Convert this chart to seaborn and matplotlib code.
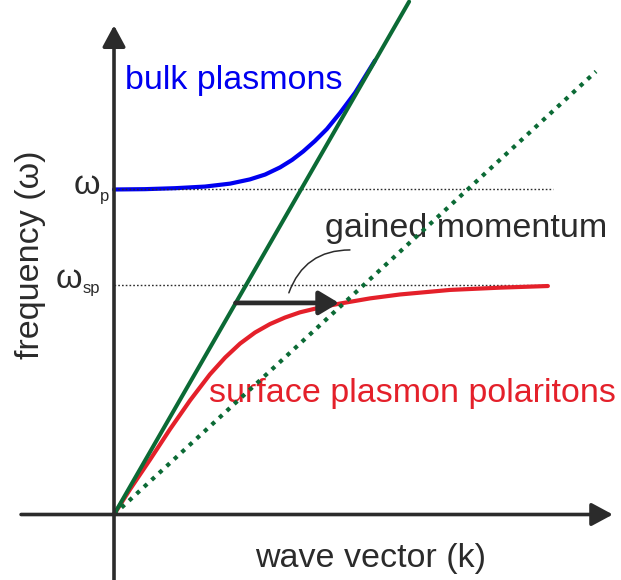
import matplotlib
matplotlib.use("Agg")
import matplotlib.pyplot as plt
from matplotlib.patches import FancyArrowPatch
import seaborn as sns

# Dispersion relations (normalised units: frequency in units of omega_p)
bulk_k = [0.000, 0.095, 0.188, 0.280, 0.357, 0.418, 0.465, 0.511, 0.548, 0.582,
          0.618, 0.655, 0.695, 0.742, 0.803]
bulk_w = [1.000, 1.001, 1.004, 1.009, 1.018, 1.031, 1.046, 1.068, 1.091, 1.117,
          1.149, 1.186, 1.235, 1.298, 1.397]

spp_k = [0.000, 0.049, 0.111, 0.172, 0.234, 0.295, 0.342, 0.388, 0.434, 0.480,
         0.526, 0.572, 0.634, 0.695, 0.788, 0.880, 1.034, 1.188, 1.335]
spp_w = [0.000, 0.077, 0.169, 0.262, 0.351, 0.431, 0.483, 0.526, 0.560, 0.586,
         0.606, 0.622, 0.637, 0.649, 0.665, 0.677, 0.691, 0.698, 0.703]

# Light lines: in vacuum and in a denser medium
light_k = [0.0, 0.908]
light_w = [0.0, 1.578]
prism_k = [0.0, 1.483]
prism_w = [0.0, 1.363]

# Characteristic frequencies
omega_p = 1.000
omega_sp = 0.705
omega_p_kmax = 1.351
omega_sp_kmax = 1.336

# Momentum gained at omega = const
gain_w = 0.651
gain_k = [0.374, 0.692]

sns.set_theme(style="white")
plt.rcParams["font.family"] = ["Liberation Sans", "DejaVu Sans"]

DARK = "#2b2b2b"
GREEN = "#0b6a35"
BLUE = "#0000f0"
RED = "#e4202a"
FS = 24.5

fig = plt.figure(figsize=(6.21, 5.80), dpi=100)
ax = fig.add_axes([0, 0, 1, 1])
ax.set_xlim(-0.3508, 1.56)
ax.set_ylim(-0.2015, 1.583)
ax.axis("off")

# Axes with arrow heads
axis_style = "-|>,head_length=13,head_width=7"
ax.add_patch(FancyArrowPatch((-0.286, 0.0), (1.535, 0.0), arrowstyle=axis_style,
                             mutation_scale=1, lw=2.6, color=DARK, shrinkA=0, shrinkB=0, zorder=6))
ax.add_patch(FancyArrowPatch((0.0, -0.25), (0.0, 1.505), arrowstyle=axis_style,
                             mutation_scale=1, lw=2.6, color=DARK, shrinkA=0, shrinkB=0, zorder=6))

curve_kw = dict(sort=False, estimator=None, ax=ax, solid_joinstyle="round",
                solid_capstyle="round")

# Bulk plasmons
sns.lineplot(x=bulk_k, y=bulk_w, color=BLUE, lw=3.0, zorder=2, **curve_kw)

# Reference frequencies
ax.plot([0, omega_p_kmax], [omega_p, omega_p], color=DARK, lw=1.0,
        linestyle=(0, (1.2, 1.5)), zorder=3)
ax.plot([0, omega_sp_kmax], [omega_sp, omega_sp], color=DARK, lw=1.0,
        linestyle=(0, (1.2, 1.5)), zorder=3)

# Surface plasmon polaritons
sns.lineplot(x=spp_k, y=spp_w, color=RED, lw=3.0, zorder=4, **curve_kw)

# Light lines
sns.lineplot(x=light_k, y=light_w, sort=False, estimator=None, color=GREEN, lw=2.9,
             ax=ax, zorder=5)
line, = ax.plot(prism_k, prism_w, color=GREEN, lw=3.0, zorder=5)
line.set_linestyle((0, (1.0, 1.45)))
line.set_dash_capstyle("butt")

# Gained momentum arrow
ax.add_patch(FancyArrowPatch((gain_k[0], gain_w), (gain_k[1], gain_w),
                             arrowstyle="-|>,head_length=12,head_width=7.2",
                             mutation_scale=1, lw=3.4, color=DARK,
                             shrinkA=0, shrinkB=0, zorder=5))
ax.add_patch(FancyArrowPatch((0.538, 0.682), (0.726, 0.814), arrowstyle="-",
                             connectionstyle="arc3,rad=-0.35", lw=1.1, color=DARK,
                             shrinkA=0, shrinkB=0, zorder=5))

# Labels
ax.text(0.034, 1.308, "bulk plasmons", color=BLUE, fontsize=FS, ha="left", va="baseline")
ax.text(0.648, 0.855, "gained momentum", color=DARK, fontsize=FS, ha="left", va="baseline")
ax.text(0.292, 0.345, "surface plasmon polaritons", color=RED, fontsize=FS,
        ha="left", va="baseline")
ax.text(0.435, -0.160, "wave vector (k)", color=DARK, fontsize=FS, ha="left", va="baseline")
ax.text(-0.258, 0.800, "frequency (ω)", color=DARK, fontsize=FS, ha="center", va="center",
        rotation=90)

ax.text(-0.044, 0.985, "ω", color=DARK, fontsize=FS, ha="right", va="baseline")
ax.text(-0.042, 0.964, "p", color=DARK, fontsize=12, ha="left", va="baseline")
ax.text(-0.099, 0.697, "ω", color=DARK, fontsize=FS, ha="right", va="baseline")
ax.text(-0.096, 0.680, "sp", color=DARK, fontsize=12, ha="left", va="baseline")

fig.savefig("out.png", dpi=100)
